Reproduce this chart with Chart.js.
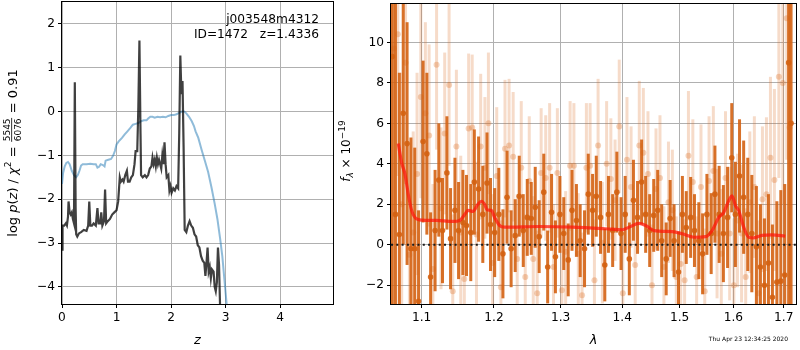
<!DOCTYPE html>
<html>
<head>
<meta charset="utf-8">
<script src="https://cdn.jsdelivr.net/npm/chart.js@4.4.1/dist/chart.umd.min.js"></script>
<style>
  html, body { margin: 0; padding: 0; background: #fff; }
  #wrap { position: relative; width: 800px; height: 350px; overflow: hidden; }
  canvas { position: absolute; top: 0; }
  #pz { left: 0; }
  #spec { left: 335px; }
</style>
</head>
<body>
<div id="wrap">
  <canvas id="pz" width="340" height="350"></canvas>
  <canvas id="spec" width="465" height="350"></canvas>
</div>
<script>
/* Redshift fit summary: log p(z) on the left, 1D spectrum with
 * error bars and the best-fit template on the right. */

// ---- left panel: log p(z) ----
const zTicks = [0, 1, 2, 3, 4];
const pzTicks = [-4, -3, -2, -1, 0, 1, 2];

// chi2-based curve (dark)
const zChi = [0.00, 0.01, 0.04, 0.07, 0.09, 0.11, 0.12, 0.14, 0.16, 0.18, 0.20, 0.22, 0.235, 0.25, 0.26, 0.28,
  0.31, 0.35, 0.40, 0.45, 0.48, 0.50, 0.52, 0.55, 0.58, 0.62, 0.65, 0.67, 0.70, 0.72, 0.74, 0.77, 0.79, 0.81,
  0.84, 0.88, 0.92, 0.96, 1.00, 1.03, 1.06, 1.08, 1.11, 1.13, 1.16, 1.19, 1.21, 1.24, 1.27, 1.30, 1.33, 1.35,
  1.38, 1.40, 1.42, 1.44, 1.45, 1.48, 1.52, 1.55, 1.58, 1.61, 1.64, 1.66, 1.68, 1.70, 1.72, 1.74, 1.76, 1.78,
  1.80, 1.82, 1.84, 1.86, 1.88, 1.90, 1.92, 1.95, 1.97, 1.99, 2.01, 2.04, 2.07, 2.10, 2.13, 2.15, 2.17, 2.19,
  2.21, 2.23, 2.25, 2.28, 2.31, 2.34, 2.37, 2.40, 2.43, 2.46, 2.49, 2.52, 2.55, 2.58, 2.61, 2.63, 2.65, 2.67,
  2.69, 2.71, 2.73, 2.75, 2.78, 2.80, 2.82, 2.84, 2.86, 2.88, 2.90, 2.93];
const logpChi = [-3.15, -2.6, -2.6, -2.55, -2.6, -2.4, -2.05, -2.3, -2.35, -2.3, -2.45, -2.55, 0.67, -2.2, -2.8, -2.85,
  -2.78, -2.75, -2.7, -2.72, -2.6, -2.05, -2.6, -2.6, -2.55, -2.6, -2.2, -2.55, -2.55, -2.3, -2.6, -2.5, -1.78, -2.55,
  -2.5, -2.45, -2.35, -2.3, -2.25, -2.05, -1.5, -1.6, -1.55, -1.6, -1.45, -1.35, -1.6, -1.6, -1.5, -1.45, -1.2, -0.9,
  -0.9, 0.1, 1.62, -0.5, -1.45, -1.5, -1.45, -1.5, -1.45, -1.3, -1.25, -1.05, -1.2, -1.1, -1.25, -1.05, -1.2, -1.1,
  -1.2, -1.3, -1.0, -1.2, -0.7, -1.2, -1.5, -1.45, -1.8, -1.7, -1.85, -1.75, -1.8, -1.7, -1.75, -0.5, 1.28, 0.4,
  0.7, -0.8, -2.7, -2.75, -2.6, -2.5, -2.6, -2.65, -2.8, -2.85, -3.05, -3.1, -3.3, -3.4, -3.45, -3.75, -3.45, -3.1,
  -3.65, -3.55, -3.8, -3.6, -3.65, -4.0, -4.1, -3.9, -3.1, -3.5, -4.5, -5.5];

// prior-weighted curve (light blue)
const zPrior = [0.00, 0.02, 0.05, 0.08, 0.11, 0.14, 0.18, 0.22, 0.26, 0.29, 0.32, 0.35, 0.38, 0.45, 0.52, 0.58,
  0.62, 0.65, 0.68, 0.71, 0.75, 0.78, 0.80, 0.85, 0.90, 0.94, 0.97, 1.00, 1.04, 1.10, 1.15, 1.20, 1.25, 1.30,
  1.35, 1.40, 1.45, 1.50, 1.55, 1.58, 1.62, 1.66, 1.70, 1.75, 1.80, 1.85, 1.90, 1.95, 2.00, 2.05, 2.10, 2.15,
  2.20, 2.24, 2.28, 2.33, 2.38, 2.42, 2.45, 2.50, 2.56, 2.62, 2.68, 2.74, 2.80, 2.85, 2.90, 2.94, 2.98, 3.02, 3.05];
const logpPrior = [-1.65, -1.4, -1.25, -1.17, -1.15, -1.2, -1.35, -1.45, -1.5, -1.45, -1.35, -1.23, -1.2, -1.2, -1.19, -1.2,
  -1.2, -1.28, -1.26, -1.2, -1.22, -1.25, -1.12, -1.1, -1.08, -1.0, -0.9, -0.75, -0.68, -0.6, -0.52, -0.45, -0.38, -0.3,
  -0.28, -0.26, -0.22, -0.2, -0.2, -0.16, -0.12, -0.12, -0.14, -0.12, -0.13, -0.12, -0.13, -0.1, -0.08, -0.08, -0.06, -0.03,
  0.0, 0.0, -0.04, -0.12, -0.22, -0.33, -0.45, -0.6, -0.87, -1.12, -1.38, -1.72, -2.1, -2.45, -2.9, -3.3, -3.85, -4.4, -4.9];

// ---- right panel: spectrum ----
const lamTicks = [1.1, 1.2, 1.3, 1.4, 1.5, 1.6, 1.7];
const fluxTicks = [-2, 0, 2, 4, 6, 8, 10];

// primary spectrum (dark orange)
const darkLam = [1.062, 1.066, 1.071, 1.076, 1.081, 1.086, 1.091, 1.096, 1.102, 1.107, 1.112, 1.118, 1.123, 1.128,
  1.134, 1.139, 1.145, 1.150, 1.156, 1.161, 1.167, 1.172, 1.178, 1.184, 1.190, 1.195, 1.201, 1.207, 1.213, 1.219,
  1.225, 1.231, 1.237, 1.243, 1.249, 1.255, 1.261, 1.267, 1.274, 1.280, 1.286, 1.292, 1.299, 1.305, 1.312, 1.318,
  1.325, 1.331, 1.338, 1.344, 1.351, 1.357, 1.364, 1.371, 1.377, 1.384, 1.391, 1.398, 1.405, 1.412, 1.419, 1.426,
  1.433, 1.440, 1.447, 1.454, 1.461, 1.468, 1.476, 1.483, 1.490, 1.498, 1.505, 1.512, 1.520, 1.527, 1.535, 1.542,
  1.550, 1.558, 1.565, 1.573, 1.581, 1.589, 1.597, 1.604, 1.612, 1.620, 1.628, 1.636, 1.645, 1.653, 1.661, 1.669,
  1.677, 1.686, 1.694, 1.702, 1.710, 1.715];
const darkFlux = [9.3, 1.5, 0.5, 6.5, 5.0, -0.2, -0.2, -2.8, 5.1, 4.5,
  -1.6, 0.7, 3.2, 0.7, 3.55, 0.3, 1.7, 0.7, 1.1, 0.95,
  0.6, 3.1, 2.75, 1.5, 3.05, 1.0, 0.6, 1.5, -0.45, 2.35,
  -0.2, 0.45, 2.4, 0.7, 1.35, 1.3, 1.85, 0.4, 2.6, -1.1,
  1.6, -0.6, 1.5, 0.55, -0.75, 1.7, 1.2, 0.2, -0.2, 2.5,
  1.7, 2.4, 1.35, -1.0, 1.5, 0.7, 2.6, 0.55, 1.5, -0.7,
  2.2, 1.35, 3.1, 1.5, 0.7, 1.45, 1.7, 0.2, -0.7, 1.3,
  0.2, -1.35, 1.5, 0.85, 1.35, 0.7, 0.2, -0.45, 1.5, 0.55,
  2.5, 1.5, 0.55, 1.35, 4.3, 1.5, 3.4, 2.35, 1.5, 0.55,
  -0.1, -1.1, -2.0, -0.9, -2.6, -1.85, -1.8, -1.5, 9.0, 6.0];
const darkErr = [15, 12, 8, 6.5, 6, 5.5, 5, 4.5, 4, 4,
  3.2, 3.0, 2.8, 2.6, 2.8, 2.5, 2.6, 2.4, 2.6, 2.5,
  2.4, 2.6, 2.6, 2.4, 2.5, 2.3, 2.2, 2.3, 2.2, 2.3,
  1.9, 1.8, 2.0, 1.8, 1.9, 1.8, 2.0, 1.8, 1.9, 1.8,
  1.9, 1.8, 1.9, 1.8, 1.8, 2.0, 1.8, 1.8, 1.9, 2.0,
  1.8, 2.0, 1.8, 1.8, 1.9, 1.8, 2.0, 1.8, 1.9, 1.8,
  2.0, 1.8, 2.1, 1.9, 1.8, 1.8, 2.0, 1.8, 1.8, 1.9,
  1.8, 2.0, 1.9, 1.8, 2.0, 1.8, 1.9, 2.0, 2.0, 2.0,
  2.4, 2.4, 2.4, 2.5, 2.7, 2.6, 2.8, 2.8, 2.8, 2.9,
  3.0, 3.1, 3.3, 3.4, 3.6, 4.0, 4.5, 4.5, 15, 15];

// second spectrum (faint orange)
const lightLam = [1.064, 1.069, 1.074, 1.079, 1.084, 1.089, 1.094, 1.099, 1.105, 1.110, 1.115, 1.120, 1.126, 1.131,
  1.137, 1.142, 1.147, 1.153, 1.158, 1.164, 1.169, 1.175, 1.181, 1.187, 1.192, 1.198, 1.204, 1.210, 1.216, 1.222,
  1.228, 1.234, 1.240, 1.246, 1.252, 1.258, 1.264, 1.270, 1.277, 1.283, 1.289, 1.295, 1.302, 1.308, 1.315, 1.321,
  1.328, 1.334, 1.341, 1.347, 1.354, 1.360, 1.367, 1.374, 1.381, 1.388, 1.395, 1.401, 1.408, 1.415, 1.422, 1.429,
  1.436, 1.444, 1.451, 1.458, 1.465, 1.472, 1.480, 1.487, 1.494, 1.502, 1.509, 1.516, 1.524, 1.531, 1.539, 1.546,
  1.554, 1.562, 1.569, 1.577, 1.585, 1.593, 1.601, 1.608, 1.616, 1.624, 1.632, 1.641, 1.649, 1.657, 1.665, 1.673,
  1.681, 1.690, 1.698, 1.706, 1.712];
const lightFlux = [9.7, 10.4, 2.0, 9.0, -0.5, 0.6, 3.5, 7.3, 6.5, 5.4,
  -1.2, 8.9, 1.8, 5.5, 7.9, -2.3, 4.85, 0.6, -1.7, 5.75,
  5.8, 0.5, 4.85, 3.8, 6.0, -0.9, 3.4, -2.1, 4.75, 4.9,
  4.35, -0.7, 3.8, -1.6, 3.15, -0.7, -2.4, 3.55, 3.3, 3.8,
  -1.1, 3.55, -2.25, -0.35, 3.9, 3.9, -0.45, -2.5, 3.8, 3.9,
  -1.75, 4.9, 0.1, 4.0, 3.25, 2.2, 5.85, -2.4, 4.2, 2.85,
  -1.0, 4.9, 4.55, 3.5, -2.0, 2.75, 3.3, -1.1, 2.1, 1.7,
  -1.6, -0.95, -1.75, 4.4, 3.1, -1.6, 2.85, -2.3, 3.15, 3.65,
  0.55, -0.45, 3.3, 0.55, -2.0, 1.2, 0.55, -1.6, 2.1, 2.85,
  -2.4, 2.25, 2.5, 4.3, 3.2, 8.3, 8.0, 11.2, 5.8];
const lightErr = [8, 7, 6.5, 6, 5.5, 5, 5, 5, 4.5, 4.5,
  4.2, 4.2, 4.0, 4.0, 4.0, 3.8, 3.8, 3.8, 3.7, 3.7,
  3.6, 3.6, 3.6, 3.5, 3.5, 3.4, 3.4, 3.3, 3.4, 3.3,
  3.2, 3.2, 3.3, 3.1, 3.2, 3.1, 3.1, 3.2, 3.1, 3.2,
  3.1, 3.2, 3.1, 3.0, 3.2, 3.1, 3.0, 3.1, 3.2, 3.1,
  3.0, 3.3, 3.0, 3.1, 3.0, 3.0, 3.3, 3.0, 3.1, 3.0,
  3.0, 3.2, 3.2, 3.1, 3.0, 3.0, 3.1, 3.0, 3.0, 3.0,
  3.0, 3.0, 3.0, 3.2, 3.1, 3.0, 3.1, 3.1, 3.2, 3.2,
  3.2, 3.2, 3.3, 3.3, 3.3, 3.3, 3.4, 3.4, 3.5, 3.5,
  3.6, 3.6, 3.8, 4.0, 4.5, 5.0, 6.0, 7.0, 8.0];

// best-fit template (red)
const modelLam = [1.0696, 1.0740, 1.0782, 1.0825, 1.0869, 1.0912, 1.0955, 1.1000, 1.1200, 1.1424, 1.1516, 1.1586,
  1.1631, 1.1701, 1.1771, 1.1820, 1.1866, 1.1899, 1.1962, 1.2009, 1.2081, 1.2154, 1.2674, 1.3190, 1.3728, 1.4004,
  1.4117, 1.4287, 1.4402, 1.4546, 1.4868, 1.5047, 1.5259, 1.5475, 1.5597, 1.5723, 1.5818, 1.5913, 1.5976, 1.6041,
  1.6105, 1.6201, 1.6299, 1.6396, 1.6560, 1.6760, 1.7031];
const modelFlux = [5.0, 4.05, 3.5, 2.5, 1.7, 1.35, 1.25, 1.22, 1.2, 1.15, 1.2, 1.5,
  1.7, 1.65, 2.0, 2.15, 2.0, 1.73, 1.7, 1.35, 0.95, 0.87, 0.9, 0.87, 0.79, 0.74,
  0.87, 1.06, 0.95, 0.7, 0.65, 0.54, 0.37, 0.4, 0.7, 1.35, 1.6, 2.18, 2.42, 1.93,
  1.68, 0.87, 0.37, 0.34, 0.46, 0.49, 0.42];

const LAM_MIN = 1.0603, LAM_MAX = 1.7252;

// ---- shared styling helpers ----
const FONT = '"DejaVu Sans", sans-serif';
const GRID = '#b0b0b0';
const DARK = 'rgba(212, 98, 18, 0.9)';
const LIGHT_BAR = 'rgba(217, 105, 30, 0.24)';
const LIGHT_DOT = 'rgba(217, 105, 30, 0.3)';

Chart.defaults.font.family = FONT;
Chart.defaults.color = '#000';

// Pin an axis box to a fixed size and drop the label overflow padding.
const fixBox = (w, h) => scale => {
  if (w != null) scale.width = w;
  if (h != null) scale.height = h;
  scale.paddingTop = scale.paddingBottom = scale.paddingLeft = scale.paddingRight = 0;
};
const setTicks = values => scale => { scale.ticks = values.map(value => ({ value })); };
const minus = v => String(v).replace('-', '\u2212');

const axis = (extra) => Object.assign({
  bounds: 'data',
  offset: false,
  grid: { color: GRID, lineWidth: 1, tickColor: '#000', tickLength: 4, offset: false },
  border: { display: false },
  ticks: { color: '#000', font: { size: 12.2, family: FONT }, padding: 3, autoSkip: false, maxRotation: 0 }
}, extra);

// Black frame around the plot area, drawn over the data like matplotlib spines.
const framePlugin = {
  id: 'frame',
  afterDatasetsDraw(chart) {
    const { ctx, chartArea: a } = chart;
    ctx.save();
    ctx.strokeStyle = '#000';
    ctx.lineWidth = 1;
    ctx.strokeRect(Math.round(a.left) - 0.5, Math.round(a.top) - 0.5,
      Math.round(a.right - a.left) + 1, Math.round(a.bottom - a.top) + 1);
    ctx.restore();
  }
};

// Rotated axis label made of styled runs (plain, italic, super/subscript, fraction).
const drawRuns = (ctx, cx, cy, runs) => {
  ctx.save();
  ctx.translate(cx, cy);
  ctx.rotate(-Math.PI / 2);
  ctx.fillStyle = '#000';
  ctx.textBaseline = 'alphabetic';
  const widthOf = r => {
    ctx.font = r.font;
    if (r.num) return Math.max(ctx.measureText(r.num).width, ctx.measureText(r.den).width) + 2;
    return ctx.measureText(r.text).width;
  };
  const widths = runs.map(widthOf);
  let x = -widths.reduce((s, w) => s + w, 0) / 2;
  const base = 4.5;
  runs.forEach((r, i) => {
    ctx.font = r.font;
    if (r.num) {
      const w = widths[i];
      ctx.textAlign = 'center';
      ctx.fillText(r.num, x + w / 2, base - 6.5);
      ctx.fillText(r.den, x + w / 2, base + 4.5);
      ctx.fillRect(x + 0.5, base - 5.2, w - 1, 0.8);
      ctx.textAlign = 'left';
    } else {
      ctx.textAlign = 'left';
      ctx.fillText(r.text, x, base + (r.dy || 0));
    }
    x += widths[i];
  });
  ctx.restore();
};

const N13 = `13px ${FONT}`, I13 = `italic 13px ${FONT}`, N9 = `9px ${FONT}`, I9 = `italic 9px ${FONT}`;

const pzLabelPlugin = {
  id: 'pzLabel',
  afterDraw(chart) {
    const { ctx, chartArea: a } = chart;
    drawRuns(ctx, 12, (a.top + a.bottom) / 2, [
      { text: 'log ', font: N13 }, { text: 'p', font: I13 }, { text: '(', font: N13 },
      { text: 'z', font: I13 }, { text: ') / ', font: N13 }, { text: '\u03c7', font: I13 },
      { text: '2', font: N9, dy: -5.5 }, { text: ' = ', font: N13 },
      { num: '5545', den: '6076', font: N9 }, { text: ' = 0.91', font: N13 }
    ]);
    ctx.save();
    ctx.font = `12.2px ${FONT}`;
    ctx.textAlign = 'right';
    ctx.textBaseline = 'middle';
    ctx.fillStyle = '#000';
    ctx.fillText('j003548m4312', 319, 20);
    ctx.fillText('ID=1472   z=1.4336', 319, 35);
    ctx.restore();
  }
};

const specLabelPlugin = {
  id: 'specLabel',
  afterDraw(chart) {
    const { ctx, chartArea: a } = chart;
    drawRuns(ctx, 10, (a.top + a.bottom) / 2 - 3, [
      { text: 'f', font: `italic 12px ${FONT}` }, { text: '\u03bb', font: I9, dy: 3 },
      { text: ' \u00d7 10', font: `12px ${FONT}` }, { text: '\u221219', font: N9, dy: -5 }
    ]);
    ctx.save();
    ctx.font = `6px ${FONT}`;
    ctx.textAlign = 'right';
    ctx.textBaseline = 'middle';
    ctx.fillStyle = '#000';
    ctx.fillText('Thu Apr 23 12:34:25 2020', 453, 339);
    ctx.restore();
  }
};

const xyPairs = (xs, ys) => xs.map((x, i) => ({ x, y: ys[i] }));
const errBars = (xs, ys, es) => xs.map((x, i) => ({ x, y: [ys[i] - es[i], ys[i] + es[i]] }));

const baseOptions = (padding, scales) => ({
  responsive: false,
  animation: false,
  devicePixelRatio: 1,
  events: [],
  layout: { padding },
  plugins: { legend: { display: false }, tooltip: { enabled: false } },
  scales
});

// ---- left chart ----
new Chart(document.getElementById('pz'), {
  type: 'line',
  data: {
    datasets: [
      { data: xyPairs(zChi, logpChi), borderColor: 'rgba(0,0,0,0.75)', borderWidth: 2.2,
        pointRadius: 0, tension: 0, order: 1 },
      { data: xyPairs(zPrior, logpPrior), borderColor: 'rgba(31,119,180,0.5)', borderWidth: 2,
        pointRadius: 0, tension: 0, order: 2 }
    ]
  },
  options: baseOptions({ left: 0, right: 7, top: 2, bottom: 0 }, {
    x: axis({
      type: 'linear', min: 0, max: 4.97,
      afterBuildTicks: setTicks(zTicks), afterFit: fixBox(null, 46),
      title: { display: true, text: 'z', color: '#000', font: { size: 13, style: 'italic', family: FONT },
        padding: { top: 0, bottom: 2 } }
    }),
    y: axis({
      type: 'linear', min: -4.39, max: 2.5,
      afterBuildTicks: setTicks(pzTicks), afterFit: fixBox(62, null),
      ticks: { color: '#000', font: { size: 12.2, family: FONT }, padding: 3, autoSkip: false, callback: minus }
    })
  }),
  plugins: [framePlugin, pzLabelPlugin]
});

// ---- right chart ----
new Chart(document.getElementById('spec'), {
  type: 'scatter',
  data: {
    datasets: [
      { type: 'line', data: [{ x: LAM_MIN, y: 0 }, { x: LAM_MAX, y: 0 }], borderColor: '#1a1a1a',
        borderWidth: 2, borderDash: [2, 3.3], pointRadius: 0, order: 0 },
      { type: 'line', data: xyPairs(modelLam, modelFlux), borderColor: 'rgba(255,20,10,0.72)',
        borderWidth: 3.2, pointRadius: 0, cubicInterpolationMode: 'monotone', order: 1 },
      { type: 'scatter', data: xyPairs(darkLam, darkFlux), backgroundColor: DARK, borderWidth: 0,
        pointRadius: 2.8, order: 2 },
      { type: 'bar', data: errBars(darkLam, darkFlux, darkErr), backgroundColor: DARK,
        barThickness: 3, inflateAmount: 0, grouped: false, borderWidth: 0, order: 3 },
      { type: 'scatter', data: xyPairs(lightLam, lightFlux), backgroundColor: LIGHT_DOT, borderWidth: 0,
        pointRadius: 3, order: 4 },
      { type: 'bar', data: errBars(lightLam, lightFlux, lightErr), backgroundColor: LIGHT_BAR,
        barThickness: 3, inflateAmount: 0, grouped: false, borderWidth: 0, order: 5 }
    ]
  },
  options: baseOptions({ left: 0, right: 1, top: 2, bottom: 0 }, {
    x: axis({
      type: 'logarithmic', min: LAM_MIN, max: LAM_MAX,
      afterBuildTicks: setTicks(lamTicks), afterFit: fixBox(null, 46),
      ticks: { color: '#000', font: { size: 12.2, family: FONT }, padding: 3, autoSkip: false, maxRotation: 0,
        callback: v => Number(v).toFixed(1) },
      title: { display: true, text: '\u03bb', color: '#000', font: { size: 13, style: 'italic', family: FONT },
        padding: { top: 0, bottom: 2 } }
    }),
    y: axis({
      type: 'linear', min: -2.93, max: 11.9,
      afterBuildTicks: setTicks(fluxTicks), afterFit: fixBox(56, null),
      ticks: { color: '#000', font: { size: 12.2, family: FONT }, padding: 3, autoSkip: false, callback: minus }
    })
  }),
  plugins: [framePlugin, specLabelPlugin]
});
</script>
</body>
</html>
